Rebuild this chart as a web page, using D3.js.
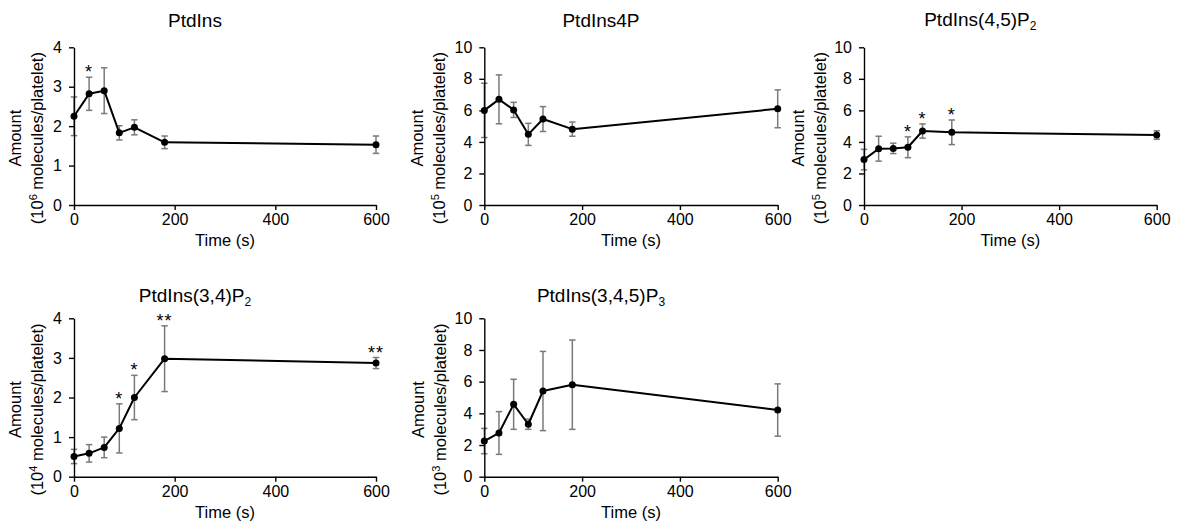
<!DOCTYPE html>
<html>
<head>
<meta charset="utf-8">
<script src="https://cdn.jsdelivr.net/npm/d3@7"></script>
<style>
  body { margin: 0; background: #fff; }
  svg { font-family: "Liberation Sans", Arial, sans-serif; }
</style>
</head>
<body>
<div id="chart"></div>
<script>
const times = [0, 30, 60, 90, 120, 180, 600];
const xTicks = [0, 200, 400, 600];

const ptdIns = [2.25, 2.82, 2.90, 1.83, 1.97, 1.59, 1.53];
const ptdInsErr = [0.49, 0.42, 0.58, 0.18, 0.19, 0.16, 0.22];
const ptdInsStars = ["", "*", "", "", "", "", ""];

const ptdIns4P = [6.00, 6.70, 6.03, 4.48, 5.45, 4.81, 6.10];
const ptdIns4PErr = [1.72, 1.55, 0.48, 0.70, 0.79, 0.45, 1.20];
const ptdIns4PStars = ["", "", "", "", "", "", ""];

const pip2_45 = [2.88, 3.57, 3.59, 3.66, 4.69, 4.61, 4.44];
const pip2_45Err = [0.65, 0.79, 0.33, 0.66, 0.45, 0.78, 0.27];
const pip2_45Stars = ["", "", "", "*", "*", "*", ""];

const pip2_34 = [0.51, 0.59, 0.74, 1.22, 2.00, 2.98, 2.87];
const pip2_34Err = [0.18, 0.22, 0.26, 0.62, 0.56, 0.83, 0.14];
const pip2_34Stars = ["", "", "", "*", "*", "**", "**"];

const pip3 = [2.25, 2.76, 4.57, 3.31, 5.41, 5.81, 4.21];
const pip3Err = [0.80, 1.35, 1.58, 0.32, 2.50, 2.82, 1.65];
const pip3Stars = ["", "", "", "", "", "", ""];

const yTicks4 = [0, 1, 2, 3, 4];
const yTicks10 = [0, 2, 4, 6, 8, 10];

const width = 1178, height = 531;

const svg = d3.select("#chart").append("svg")
  .attr("width", width)
  .attr("height", height);

svg.append("rect").attr("width", width).attr("height", height).attr("fill", "#fff");

// panels: data + where they sit on the page
const panels = [
  { title: "PtdIns", sub: "", exp: "6", values: ptdIns, err: ptdInsErr, stars: ptdInsStars, ymax: 4, yticks: yTicks4,
    left: 74, top: 47.3, w: 302, h: 157.7, titleY: 26.7, lab1: -53, lab2: -31 },
  { title: "PtdIns4P", sub: "", exp: "5", values: ptdIns4P, err: ptdIns4PErr, stars: ptdIns4PStars, ymax: 10, yticks: yTicks10,
    left: 484.3, top: 47.3, w: 293.4, h: 157.7, titleY: 26.7, lab1: -61, lab2: -39 },
  { title: "PtdIns(4,5)P", sub: "2", exp: "5", values: pip2_45, err: pip2_45Err, stars: pip2_45Stars, ymax: 10, yticks: yTicks10,
    left: 864, top: 47.3, w: 292.7, h: 157.7, titleY: 26.2, lab1: -60, lab2: -38 },
  { title: "PtdIns(3,4)P", sub: "2", exp: "4", values: pip2_34, err: pip2_34Err, stars: pip2_34Stars, ymax: 4, yticks: yTicks4,
    left: 74, top: 318.3, w: 302, h: 158.4, titleY: 301.7, lab1: -53, lab2: -31 },
  { title: "PtdIns(3,4,5)P", sub: "3", exp: "3", values: pip3, err: pip3Err, stars: pip3Stars, ymax: 10, yticks: yTicks10,
    left: 484.3, top: 318.3, w: 293.4, h: 158.4, titleY: 301.7, lab1: -60, lab2: -38 }
];

panels.forEach(p => {
  const g = svg.append("g").attr("transform", `translate(${p.left},${p.top})`);

  const x = d3.scaleLinear().domain([0, 600]).range([0, p.w]);
  const y = d3.scaleLinear().domain([0, p.ymax]).range([p.h, 0]);

  const pts = times.map((t, i) => ({ t, v: p.values[i], e: p.err[i], s: p.stars[i] }));

  // error bars
  const eb = g.append("g").attr("stroke", "#7a7a7a").attr("stroke-width", 1.5).attr("fill", "none");
  eb.selectAll("line.v").data(pts).join("line")
    .attr("x1", d => x(d.t)).attr("x2", d => x(d.t))
    .attr("y1", d => y(d.v - d.e)).attr("y2", d => y(d.v + d.e));
  eb.selectAll("line.t").data(pts).join("line")
    .attr("x1", d => x(d.t) - 3.2).attr("x2", d => x(d.t) + 3.2)
    .attr("y1", d => y(d.v + d.e)).attr("y2", d => y(d.v + d.e));
  eb.selectAll("line.b").data(pts).join("line")
    .attr("x1", d => x(d.t) - 3.2).attr("x2", d => x(d.t) + 3.2)
    .attr("y1", d => y(d.v - d.e)).attr("y2", d => y(d.v - d.e));

  // axes
  const xa = g.append("g").attr("transform", `translate(0,${p.h})`)
    .call(d3.axisBottom(x).tickValues(xTicks).tickFormat(d3.format("d"))
      .tickSize(5).tickPadding(4).tickSizeOuter(0));
  const ya = g.append("g")
    .call(d3.axisLeft(y).tickValues(p.yticks).tickFormat(d3.format("d"))
      .tickSize(5).tickPadding(7).tickSizeOuter(0));
  [xa, ya].forEach(a => {
    a.attr("font-size", 16).attr("font-family", null);
    a.selectAll("path, line").attr("stroke", "#000").attr("stroke-width", 1.4);
    a.selectAll("text").attr("fill", "#000");
  });

  // line and markers
  g.append("path").datum(pts)
    .attr("fill", "none").attr("stroke", "#000").attr("stroke-width", 2)
    .attr("stroke-linejoin", "round")
    .attr("d", d3.line().x(d => x(d.t)).y(d => y(d.v)));
  g.selectAll("circle").data(pts).join("circle")
    .attr("cx", d => x(d.t)).attr("cy", d => y(d.v)).attr("r", 3.5).attr("fill", "#000");

  // significance stars
  g.selectAll("text.star").data(pts.filter(d => d.s)).join("text")
    .attr("class", "star")
    .attr("x", d => x(d.t)).attr("y", d => y(d.v + d.e) + 1)
    .attr("text-anchor", "middle").attr("font-size", 18).attr("letter-spacing", 1)
    .attr("fill", "#000")
    .text(d => d.s);

  // title
  const tt = svg.append("text")
    .attr("x", p.left + p.w / 2 - 30).attr("y", p.titleY)
    .attr("text-anchor", "middle").attr("font-size", 19);
  tt.append("tspan").text(p.title);
  if (p.sub) tt.append("tspan").attr("font-size", 12).attr("dy", 4).text(p.sub);

  // x label
  g.append("text")
    .attr("x", p.w / 2).attr("y", p.h + 41)
    .attr("text-anchor", "middle").attr("font-size", 16.5)
    .text("Time (s)");

  // y label, two lines
  const cy = p.h / 2 + 12;
  g.append("text")
    .attr("transform", `translate(${p.lab1},${cy}) rotate(-90)`)
    .attr("text-anchor", "middle").attr("font-size", 16.5)
    .text("Amount");
  const l2 = g.append("text")
    .attr("transform", `translate(${p.lab2},${cy}) rotate(-90)`)
    .attr("text-anchor", "middle").attr("font-size", 16.5);
  l2.append("tspan").text("(10");
  l2.append("tspan").attr("font-size", 11).attr("dy", -6).text(p.exp);
  l2.append("tspan").attr("dy", 6).text(" molecules/platelet)");
});
</script>
</body>
</html>
